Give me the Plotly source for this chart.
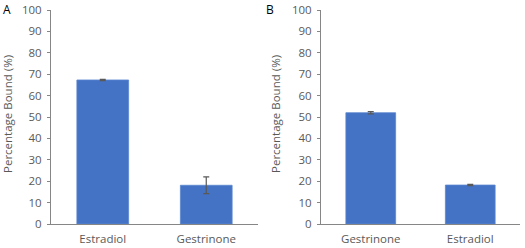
import plotly.graph_objects as go

cats_a = ["Estradiol", "Gestrinone"]
vals_a = [67.3, 18.1]
err_a = [0.3, 3.9]

cats_b = ["Gestrinone", "Estradiol"]
vals_b = [52.0, 18.2]
err_b = [0.5, 0.3]

y_ticks = list(range(0, 101, 10))

bar_color = "#4472C4"
gray = "#595959"
axis_gray = "#868686"
font_family = "'Open Sans', sans-serif"

fig = go.Figure()
fig.add_trace(go.Bar(x=cats_a, y=vals_a, xaxis="x", yaxis="y", width=0.5,
                     marker=dict(color=bar_color, line=dict(color="#5a86d0", width=0.8)),
                     error_y=dict(type="data", array=err_a, color=gray, thickness=1.2, width=3)))
fig.add_trace(go.Bar(x=cats_b, y=vals_b, xaxis="x2", yaxis="y2", width=0.5,
                     marker=dict(color=bar_color, line=dict(color="#5a86d0", width=0.8)),
                     error_y=dict(type="data", array=err_b, color=gray, thickness=1.2, width=3)))

ydom = [24 / 248, 238 / 248]
yax = dict(range=[0, 100], tickvals=y_ticks, showgrid=False, zeroline=False,
           showline=True, linecolor=axis_gray, linewidth=1, ticks="outside", ticklen=3,
           tickcolor=axis_gray, tickfont=dict(size=11.5, color=gray, family=font_family),
           ticklabelstandoff=3, domain=ydom, fixedrange=True, automargin=False)
xax = dict(showgrid=False, zeroline=False, showline=True, linecolor=axis_gray, linewidth=1,
           ticks="", tickfont=dict(size=11.5, color=gray, family=font_family),
           ticklabelstandoff=4, fixedrange=True, automargin=False)

fig.update_layout(
    width=525, height=248, margin=dict(l=0, r=0, t=0, b=0, autoexpand=False),
    paper_bgcolor="white", plot_bgcolor="white", showlegend=False,
    xaxis=dict(xax, domain=[51 / 525, 258 / 525], anchor="y"),
    yaxis=dict(yax, anchor="x"),
    xaxis2=dict(xax, domain=[321 / 525, 520 / 525], anchor="y2"),
    yaxis2=dict(yax, anchor="x2"),
    annotations=[
        dict(text="Percentage Bound (%)", x=7 / 525, y=(248 - 114) / 248,
             xref="paper", yref="paper", textangle=-90, showarrow=False,
             xanchor="center", yanchor="middle",
             font=dict(size=11.5, color=gray, family=font_family)),
        dict(text="Percentage Bound (%)", x=275 / 525, y=(248 - 114) / 248,
             xref="paper", yref="paper", textangle=-90, showarrow=False,
             xanchor="center", yanchor="middle",
             font=dict(size=11.5, color=gray, family=font_family)),
        dict(text="A", x=1 / 525, y=(248 - 10) / 248, xref="paper", yref="paper",
             xanchor="left", yanchor="middle", showarrow=False,
             font=dict(size=12, color="black", family=font_family)),
        dict(text="B", x=264 / 525, y=(248 - 10) / 248, xref="paper", yref="paper",
             xanchor="left", yanchor="middle", showarrow=False,
             font=dict(size=12, color="black", family=font_family)),
    ],
)

fig.write_html("out.html", config={"displayModeBar": False},
               post_script="document.body.style.margin='0';document.body.style.overflow='hidden';")
